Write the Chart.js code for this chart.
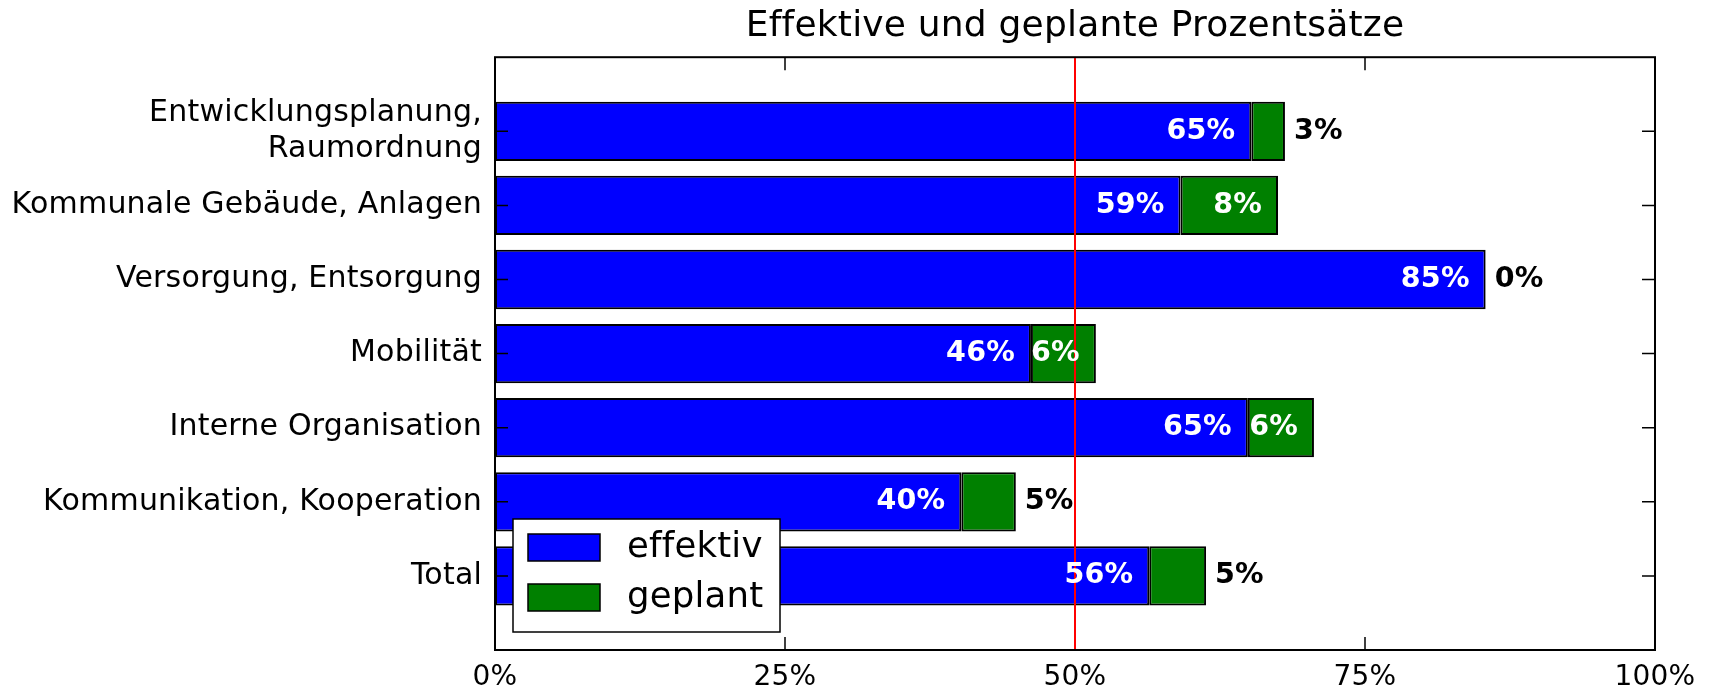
<!DOCTYPE html>
<html>
<head>
<meta charset="utf-8">
<script src="https://cdn.jsdelivr.net/npm/chart.js@4/dist/chart.umd.min.js"></script>
<style>
  html, body { margin: 0; padding: 0; background: #fff; }
  #wrap { width: 1715px; height: 691px; position: relative; }
</style>
</head>
<body>
<div id="wrap"><canvas id="c"></canvas></div>
<script>
const chartTitle = 'Effektive und geplante Prozentsätze';
const categories = [
  ['Entwicklungsplanung,', 'Raumordnung'],
  'Kommunale Gebäude, Anlagen',
  'Versorgung, Entsorgung',
  'Mobilität',
  'Interne Organisation',
  'Kommunikation, Kooperation',
  'Total'
];
const effektiv = [65.2, 59.1, 85.4, 46.2, 64.9, 40.2, 56.4];
const geplant  = [2.9, 8.4, 0, 5.6, 5.7, 4.7, 4.9];
const xTicks = [0, 25, 50, 75, 100];
const referenceLine = 50;
const seriesNames = ['effektiv', 'geplant'];
const seriesColors = ['#0000ff', '#008000'];

const FONT = "'DejaVu Sans', sans-serif";

const overlay = {
  id: 'overlay',
  beforeDraw(chart) {
    // avoid 'ff' ligatures like the reference rendering
    if ('letterSpacing' in chart.ctx) chart.ctx.letterSpacing = '0.2px';
  },
  afterDatasetsDraw(chart) {
    const ctx = chart.ctx;
    const a = chart.chartArea;
    const xs = chart.scales.x, ys = chart.scales.y;
    ctx.save();
    // frame
    ctx.strokeStyle = '#000';
    ctx.lineWidth = 2;
    ctx.strokeRect(a.left, a.top, a.right - a.left, a.bottom - a.top);
    // inward ticks
    ctx.lineWidth = 1.5;
    const tl = 13;
    xTicks.forEach(v => {
      const px = xs.getPixelForValue(v);
      ctx.beginPath();
      ctx.moveTo(px, a.bottom); ctx.lineTo(px, a.bottom - tl);
      ctx.moveTo(px, a.top); ctx.lineTo(px, a.top + tl);
      ctx.stroke();
    });
    categories.forEach((c, i) => {
      const py = ys.getPixelForValue(i);
      ctx.beginPath();
      ctx.moveTo(a.left, py); ctx.lineTo(a.left + tl, py);
      ctx.moveTo(a.right, py); ctx.lineTo(a.right - tl, py);
      ctx.stroke();
    });
    // reference line
    const rx = xs.getPixelForValue(referenceLine);
    ctx.strokeStyle = '#ff0000';
    ctx.lineWidth = 2;
    ctx.beginPath(); ctx.moveTo(rx, a.top + 1); ctx.lineTo(rx, a.bottom - 1); ctx.stroke();
    // value labels
    ctx.font = "bold 28.5px " + FONT;
    ctx.textBaseline = 'middle';
    const pad = 16;
    const m0 = chart.getDatasetMeta(0), m1 = chart.getDatasetMeta(1);
    m0.data.forEach((el, i) => {
      const t = Math.round(effektiv[i]) + '%';
      ctx.fillStyle = '#fff';
      ctx.textAlign = 'right';
      ctx.fillText(t, el.x - pad, el.y);
    });
    m1.data.forEach((el, i) => {
      const t = Math.round(geplant[i]) + '%';
      const w = ctx.measureText(t).width;
      const barW = Math.abs(el.x - el.base);
      if (w + 14 <= barW) {
        ctx.fillStyle = '#fff';
        ctx.textAlign = 'right';
        ctx.fillText(t, el.x - pad, el.y);
      } else {
        ctx.fillStyle = '#000';
        ctx.textAlign = 'left';
        ctx.fillText(t, el.x + 9, el.y);
      }
    });
    ctx.restore();
  },
  afterDraw(chart) {
    const ctx = chart.ctx;
    const a = chart.chartArea;
    ctx.save();
    const bx = a.left + 18, bw = 267, bh = 113;
    const by = a.bottom - 18 - bh;
    ctx.fillStyle = '#fff';
    ctx.fillRect(bx, by, bw, bh);
    ctx.strokeStyle = '#000';
    ctx.lineWidth = 1.5;
    ctx.strokeRect(bx, by, bw, bh);
    ctx.font = "35.5px " + FONT;
    ctx.textBaseline = 'middle';
    ctx.textAlign = 'left';
    seriesNames.forEach((n, i) => {
      const sy = by + 15 + i * 50;
      ctx.fillStyle = seriesColors[i];
      ctx.fillRect(bx + 15, sy, 72, 27);
      ctx.strokeRect(bx + 15, sy, 72, 27);
      ctx.fillStyle = '#000';
      ctx.fillText(n, bx + 114, sy + 14);
    });
    ctx.restore();
  }
};

new Chart(document.getElementById('c'), {
  type: 'bar',
  data: {
    datasets: [
      {
        label: seriesNames[0],
        data: effektiv.map((v, i) => ({ x: v, y: i })),
        backgroundColor: seriesColors[0],
        borderColor: '#000',
        borderWidth: 2,
        borderSkipped: false
      },
      {
        label: seriesNames[1],
        data: geplant.map((v, i) => ({ x: v, y: i })),
        backgroundColor: seriesColors[1],
        borderColor: '#000',
        borderWidth: 2,
        borderSkipped: false
      }
    ]
  },
  options: {
    indexAxis: 'y',
    responsive: true,
    maintainAspectRatio: false,
    animation: false,
    barPercentage: 0.8,
    categoryPercentage: 1.0,
    layout: { padding: { left: 0, right: 60, top: 0, bottom: 0 } },
    plugins: {
      legend: { display: false },
      tooltip: { enabled: false },
      title: {
        display: true,
        text: chartTitle,
        fullSize: false,
        color: '#000',
        font: { family: FONT, size: 36, weight: 'normal' },
        padding: { top: 5, bottom: 9 }
      }
    },
    scales: {
      x: {
        type: 'linear',
        stacked: true,
        min: 0,
        max: 100,
        offset: false,
        grid: { display: false, drawTicks: false, offset: false },
        border: { display: false },
        afterBuildTicks: s => { s.ticks = xTicks.map(v => ({ value: v })); },
        afterFit: s => { s.height = 41; s.paddingLeft = 0; s.paddingRight = 0; },
        ticks: {
          padding: 11,
          color: '#000',
          font: { family: FONT, size: 28 },
          callback: v => v + '%'
        }
      },
      y: {
        type: 'linear',
        stacked: true,
        reverse: true,
        min: -1,
        max: 7,
        offset: false,
        grid: { display: false, drawTicks: false, offset: false },
        border: { display: false },
        afterBuildTicks: s => { s.ticks = categories.map((c, i) => ({ value: i })); },
        afterFit: s => { s.width = 495; s.paddingTop = 0; s.paddingBottom = 0; },
        ticks: {
          padding: 13,
          color: '#000',
          font: { family: FONT, size: 30, lineHeight: 1.18 },
          callback: v => categories[v]
        }
      }
    }
  },
  plugins: [overlay]
});
</script>
</body>
</html>
